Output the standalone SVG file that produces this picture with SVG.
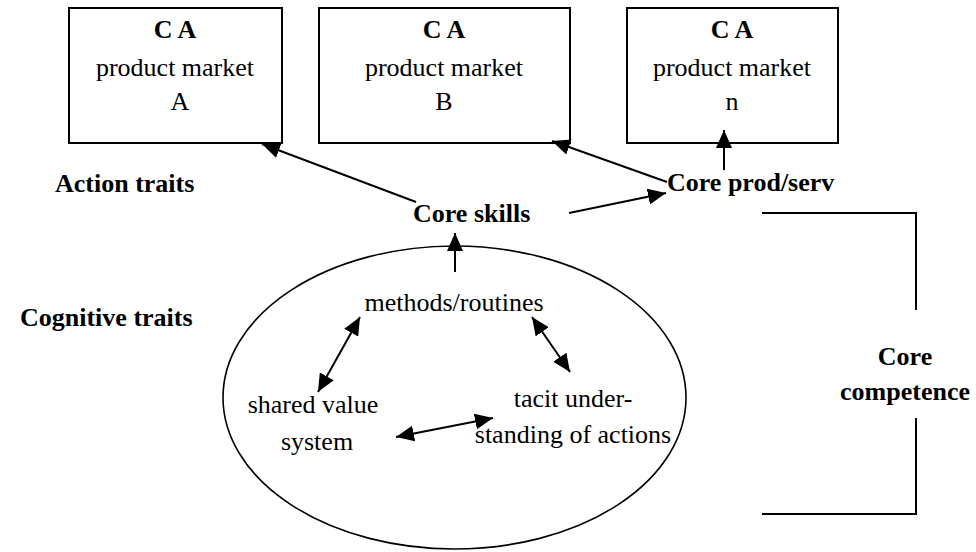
<svg xmlns="http://www.w3.org/2000/svg" width="976" height="552" viewBox="0 0 976 552">
  <defs>
    <style>
      text { font-family: "Liberation Serif", "Times New Roman", serif; font-size: 26px; fill: #000; }
      .b { font-weight: bold; }
      .c { text-anchor: middle; }
      .box { fill: #fff; stroke: #000; stroke-width: 2; }
      .ell { fill: none; stroke: #000; stroke-width: 1.6; }
      .edge { fill: none; stroke: #000; stroke-width: 2; }
      .bracket { fill: none; stroke: #000; stroke-width: 2; }
    </style>
    <marker id="arrow" markerUnits="userSpaceOnUse" markerWidth="18" markerHeight="16" refX="18" refY="8" orient="auto-start-reverse">
      <path d="M0,0 L18,8 L0,16 z" fill="#000"/>
    </marker>
  </defs>
  <rect width="976" height="552" fill="#fff"/>

  <!-- competitive advantage boxes -->
  <g id="ca-a">
    <rect class="box" x="69" y="8" width="213" height="135"/>
    <text class="b c" x="175" y="38">C A</text>
    <text class="c" x="175" y="76">product market</text>
    <text class="c" x="180" y="110">A</text>
  </g>
  <g id="ca-b">
    <rect class="box" x="319" y="8" width="251" height="135"/>
    <text class="b c" x="444" y="38">C A</text>
    <text class="c" x="444" y="76">product market</text>
    <text class="c" x="444" y="110">B</text>
  </g>
  <g id="ca-n">
    <rect class="box" x="627" y="8" width="211" height="135"/>
    <text class="b c" x="732" y="38">C A</text>
    <text class="c" x="732" y="76">product market</text>
    <text class="c" x="732" y="110">n</text>
  </g>

  <!-- side labels -->
  <g id="action-traits"><text class="b" x="55" y="192">Action traits</text></g>
  <g id="cognitive-traits"><text class="b" x="20" y="326">Cognitive traits</text></g>

  <g id="core-skills"><text class="b" x="413" y="222">Core skills</text></g>
  <g id="core-prod"><text class="b" x="667" y="191">Core prod/serv</text></g>

  <!-- cognitive core -->
  <g id="cognitive-core">
    <ellipse class="ell" cx="454.5" cy="397.5" rx="231.5" ry="151.5"/>
  </g>
  <g id="methods"><text class="c" x="454" y="311">methods/routines</text></g>
  <g id="shared-values">
    <text class="c" x="313" y="413">shared value</text>
    <text class="c" x="317" y="450">system</text>
  </g>
  <g id="tacit">
    <text class="c" x="573" y="407">tacit under-</text>
    <text class="c" x="573" y="443">standing of actions</text>
  </g>

  <!-- core competence bracket -->
  <g id="core-competence">
    <path class="bracket" d="M762,213 H916 V310 M916,418 V514 H762"/>
    <text class="b c" x="905" y="365">Core</text>
    <text class="b c" x="905" y="400">competence</text>
  </g>

  <!-- connectors -->
  <g id="connectors">
    <line class="edge" x1="416" y1="202" x2="262" y2="144" marker-end="url(#arrow)"/>
    <line class="edge" x1="667" y1="182" x2="552" y2="141" marker-end="url(#arrow)"/>
    <line class="edge" x1="569" y1="213" x2="666" y2="193" marker-end="url(#arrow)"/>
    <line class="edge" x1="724" y1="170" x2="724" y2="130" marker-end="url(#arrow)"/>
    <line class="edge" x1="455" y1="272" x2="455" y2="233" marker-end="url(#arrow)"/>
    <line class="edge" x1="360" y1="317" x2="318" y2="392" marker-start="url(#arrow)" marker-end="url(#arrow)"/>
    <line class="edge" x1="532" y1="317" x2="570" y2="372" marker-start="url(#arrow)" marker-end="url(#arrow)"/>
    <line class="edge" x1="396" y1="437" x2="493" y2="418" marker-start="url(#arrow)" marker-end="url(#arrow)"/>
  </g>
</svg>
